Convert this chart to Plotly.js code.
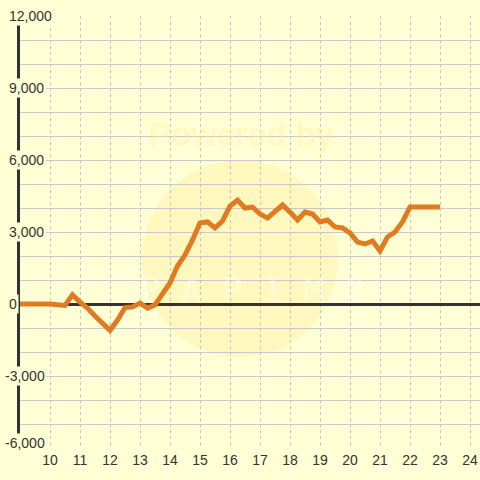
<!DOCTYPE html>
<html>
<head>
<meta charset="utf-8">
<script src="https://cdn.plot.ly/plotly-3.0.1.min.js"></script>
<style>html,body{margin:0;padding:0;background:#ffffd5;}#chart{width:480px;height:480px;}</style>
</head>
<body>
<div id="chart"></div>
<script>
// Hour of day (15-minute steps) and cumulative value
const hours = [9, 10, 10.5, 10.75, 11, 11.25, 11.5, 11.75, 12, 12.25, 12.5, 12.75, 13, 13.25, 13.5, 13.75,
  14, 14.25, 14.5, 14.75, 15, 15.25, 15.5, 15.75, 16, 16.25, 16.5, 16.75, 17, 17.25, 17.5, 17.75,
  18, 18.25, 18.5, 18.75, 19, 19.25, 19.5, 19.75, 20, 20.25, 20.5, 20.75, 21, 21.25, 21.5, 21.75, 22, 23];
const values = [0, 0, -60, 380, 80, -170, -500, -830, -1100, -670, -150, -120, 40, -170, -40, 420,
  875, 1580, 2040, 2670, 3375, 3420, 3170, 3460, 4080, 4330, 4000, 4040, 3750, 3580, 3830, 4125,
  3830, 3500, 3830, 3750, 3420, 3500, 3210, 3170, 2960, 2580, 2500, 2625, 2210, 2790, 3000, 3420, 4040, 4040];
const xTickVals = [10, 11, 12, 13, 14, 15, 16, 17, 18, 19, 20, 21, 22, 23, 24];
const yTickVals = [12000, 9000, 6000, 3000, 0, -3000, -6000];
const yTickLabels = ['12,000', '9,000', '6,000', '3,000', '0', '-3,000', '-6,000'];

const bg = '#ffffd5';
const L = 20, T = 16, W = 460, H = 432;
const yMin = Math.min(...yTickVals);

const yAnn = yTickVals.map((v, i) => ({
  xref: 'paper', yref: 'y', x: 0, y: v,
  xanchor: 'left', yanchor: 'middle',
  xshift: -13 - (yTickLabels[i].startsWith('-') ? 4.5 : 0),
  yshift: v === yMin ? 5 : 0,
  text: yTickLabels[i], showarrow: false,
  bgcolor: bg, borderpad: 1,
  font: {family: 'Liberation Sans, Arial, sans-serif', size: 14, color: '#333333'}
}));

const layout = {
  width: 480, height: 480,
  margin: {l: L, r: 0, t: T, b: 32},
  paper_bgcolor: bg, plot_bgcolor: bg,
  showlegend: false,
  xaxis: {
    range: [9, 24.3333], tickvals: xTickVals, ticktext: xTickVals.map(String),
    showgrid: true, gridcolor: '#c4c4c4', griddash: '3px,3px', gridwidth: 1,
    zeroline: false, showline: false, ticks: '', ticklabelstandoff: 2,
    tickfont: {family: 'Liberation Sans, Arial, sans-serif', size: 14, color: '#333333'},
    fixedrange: true
  },
  yaxis: {
    range: [-6000, 12000], dtick: 1000, tick0: 0,
    showgrid: true, gridcolor: '#c8c8cc', gridwidth: 1,
    zeroline: true, zerolinecolor: '#333333', zerolinewidth: 3,
    showline: true, linecolor: '#333333', linewidth: 3,
    showticklabels: false, ticks: '', fixedrange: true
  },
  shapes: [{
    type: 'circle', xref: 'paper', yref: 'paper', layer: 'below',
    x0: (142 - L) / W, x1: (338 - L) / W, y0: (448 - 357) / H, y1: (448 - 160) / H,
    fillcolor: 'rgba(255,225,110,0.22)', line: {width: 0}
  }],
  annotations: yAnn.concat([
    {xref: 'paper', yref: 'paper', x: (242 - L) / W, y: (448 - 134) / H, xanchor: 'center', yanchor: 'middle', showarrow: false,
     text: '<b>Powered by</b>', font: {family: 'Liberation Sans, Arial, sans-serif', size: 33, color: 'rgba(255,236,150,0.35)'}},
    {xref: 'paper', yref: 'paper', x: (252 - L) / W, y: (448 - 290) / H, xanchor: 'center', yanchor: 'middle', showarrow: false,
     text: 'P A P I M O', font: {family: 'DejaVu Sans Mono, monospace', size: 34, color: 'rgba(255,255,255,0.4)'}}
  ])
};

const data = [{
  x: hours, y: values, type: 'scatter', mode: 'lines',
  line: {color: '#e07b22', width: 5},
  hoverinfo: 'skip'
}];

Plotly.newPlot('chart', data, layout, {staticPlot: true, displayModeBar: false});
</script>
</body>
</html>
